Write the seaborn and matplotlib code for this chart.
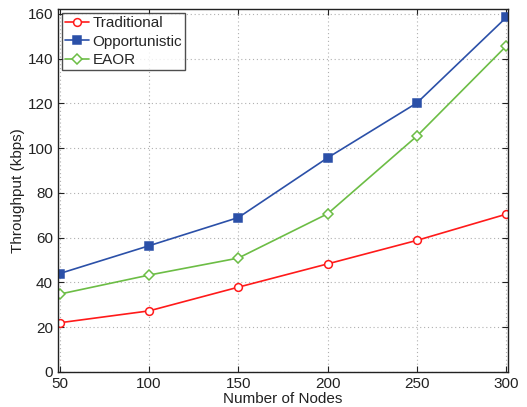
import matplotlib
matplotlib.use("Agg")
import matplotlib.pyplot as plt
import seaborn as sns
import pandas as pd

nodes = [50, 100, 150, 200, 250, 300]
traditional = [22.0, 27.3, 37.9, 48.3, 58.8, 70.5]
opportunistic = [44.0, 56.4, 69.0, 95.7, 120.2, 158.4]
eaor = [34.8, 43.3, 50.9, 70.7, 105.4, 145.6]
series_names = ["Traditional", "Opportunistic", "EAOR"]
colors = ["#ff1a1a", "#2b50a8", "#6cbd45"]
markers = ["o", "s", "D"]
fills = ["none", "full", "none"]
msizes = [5.6, 5.2, 4.6]

sns.set_style("ticks")
plt.rcParams['font.family'] = ['Liberation Sans', 'DejaVu Sans']

df = pd.DataFrame({
    "Number of Nodes": nodes * 3,
    "Throughput (kbps)": traditional + opportunistic + eaor,
    "series": sum([[n] * len(nodes) for n in series_names], []),
})

fig = plt.figure(figsize=(5.27, 4.07), dpi=100)
ax = fig.add_axes([0.110, 0.086, 0.854, 0.891])

for name, c, m, f, ms in zip(series_names, colors, markers, fills, msizes):
    sub = df[df["series"] == name]
    sns.lineplot(data=sub, x="Number of Nodes", y="Throughput (kbps)", ax=ax,
                 color=c, marker=m, markersize=ms, linewidth=1.2,
                 markerfacecolor=(c if f == "full" else "white"),
                 markeredgecolor=c, markeredgewidth=1.1, label=name)

ax.set_xlim(49, 301)
ax.set_ylim(0, 162)
ax.set_xticks(nodes)
ax.set_yticks(range(0, 161, 20))
ax.grid(True, linestyle=(0, (1, 2.5)), color="#b0b0b0", linewidth=0.8)
ax.tick_params(direction="in", top=True, right=True, labelsize=11, length=4, width=0.8, colors="#222222")
for s in ax.spines.values():
    s.set_visible(True)
    s.set_linewidth(1.0)
    s.set_color("#222222")
ax.set_xlabel("Number of Nodes", fontsize=11, labelpad=1, color="#222222")
ax.set_ylabel("Throughput (kbps)", fontsize=11, labelpad=2, color="#222222")

leg = ax.legend(loc="upper left", fontsize=11, frameon=True, fancybox=False,
                borderaxespad=0.25, handlelength=1.6, handletextpad=0.2,
                labelspacing=0.3, borderpad=0.2)
leg.get_frame().set_edgecolor("#222222")
leg.get_frame().set_linewidth(1.0)

fig.savefig("out.png", dpi=100)
